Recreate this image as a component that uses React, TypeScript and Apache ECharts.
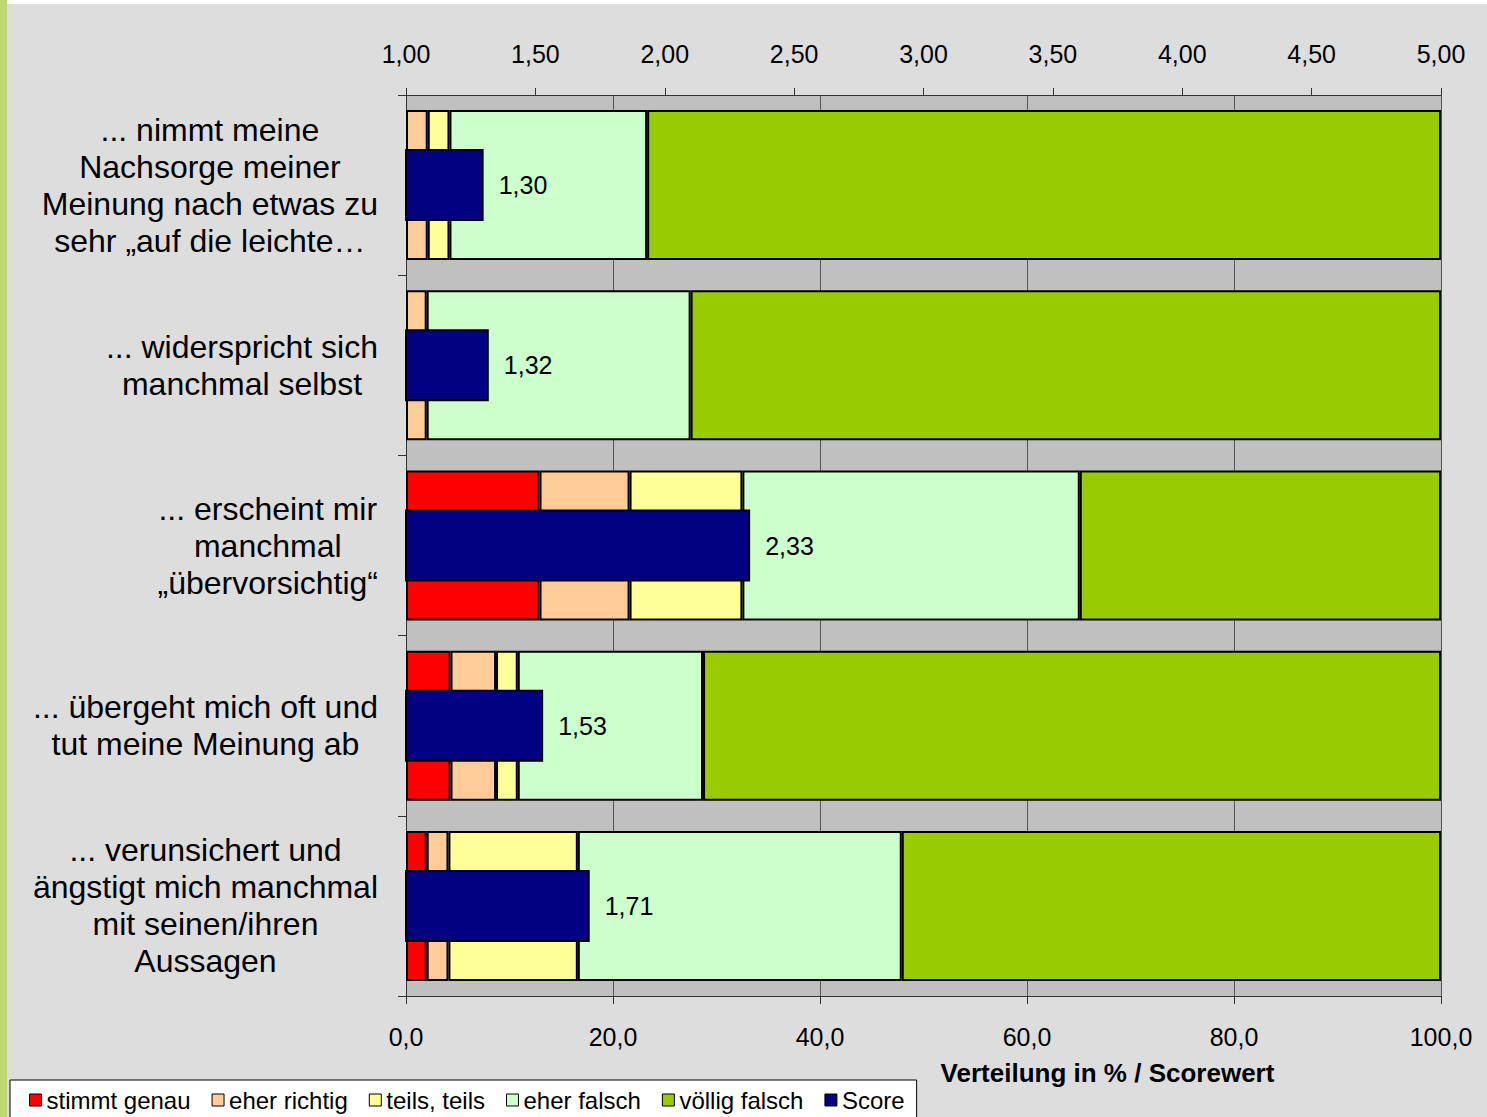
import React, { useEffect, useRef } from "react";
import * as echarts from "echarts";

const categories = [
  "... nimmt meine\nNachsorge meiner\nMeinung nach etwas zu\nsehr „auf die leichte…",
  "... widerspricht sich\nmanchmal selbst",
  "... erscheint mir\nmanchmal\n„übervorsichtig“",
  "... übergeht mich oft und\ntut meine Meinung ab",
  "... verunsichert und\nängstigt mich manchmal\nmit seinen/ihren\nAussagen",
];

const seriesNames = ["stimmt genau", "eher richtig", "teils, teils", "eher falsch", "völlig falsch"];
const stimmtGenau = [0, 0, 12.9, 4.3, 2.0];
const eherRichtig = [2.1, 2.0, 8.7, 4.4, 2.1];
const teilsTeils = [2.1, 0, 10.9, 2.1, 12.5];
const eherFalsch = [19.1, 25.5, 32.6, 17.9, 31.3];
const volligFalsch = [76.7, 72.5, 34.9, 71.3, 52.1];
const scoreName = "Score";
const score = [1.3, 1.32, 2.33, 1.53, 1.71];

const colors = ["#FF0000", "#FFCC99", "#FFFF99", "#CCFFCC", "#99CC00"];
const scoreColor = "#000080";

const FONT = "Liberation Sans, Arial, sans-serif";

export default function App() {
  const ref = useRef<HTMLDivElement>(null);
  useEffect(() => {
    if (!ref.current) return;
    const chart = echarts.init(ref.current, undefined, { renderer: "svg" });
    const stacks = [stimmtGenau, eherRichtig, teilsTeils, eherFalsch, volligFalsch];
    const stackSeries = stacks.map((arr, i) => ({
      name: seriesNames[i],
      type: "bar",
      stack: "dist",
      xAxisIndex: 0,
      yAxisIndex: 0,
      barWidth: 150,
      data: arr.map((v) => (v === 0 ? null : v)),
      itemStyle: { color: colors[i], borderColor: "#000", borderWidth: 2 },
    }));
    const option: any = {
      animation: false,
      backgroundColor: "#DDDDDD",
      textStyle: { fontFamily: FONT },
      graphic: [
        { type: "rect", left: 0, top: 0, z: -10, shape: { width: 7, height: 1117 }, style: { fill: "#BDD974" } },
        { type: "rect", left: 7, top: 0, z: -10, shape: { width: 1480, height: 4 }, style: { fill: "#FFFFFF" } },
      ],
      grid: {
        left: 406,
        right: 46,
        top: 95,
        bottom: 121,
        show: true,
        backgroundColor: "#C0C0C0",
        borderWidth: 0,
      },
      legend: {
        left: 10,
        top: 1080,
        data: [...seriesNames, scoreName],
        backgroundColor: "#FFFFFF",
        borderColor: "#000",
        borderWidth: 1,
        padding: [8, 12, 20, 19],
        itemWidth: 12,
        itemHeight: 12,
        itemGap: 21,
        icon: "rect",
        itemStyle: { borderColor: "#000", borderWidth: 1 },
        textStyle: { fontSize: 24, color: "#000", fontFamily: FONT },
      },
      xAxis: [
        {
          type: "value",
          position: "bottom",
          min: 0,
          max: 100,
          interval: 20,
          axisLine: { show: true, lineStyle: { color: "#333", width: 1 } },
          axisTick: { show: true, length: 8, lineStyle: { color: "#333" } },
          splitLine: { show: true, lineStyle: { color: "#555", width: 1 } },
          axisLabel: {
            fontSize: 25,
            color: "#000",
            margin: 28,
            fontFamily: FONT,
            formatter: (v: number) => v.toFixed(1).replace(".", ","),
          },
          name: "Verteilung in % / Scorewert",
          nameLocation: "middle",
          nameGap: 64,
          nameTextStyle: {
            fontSize: 26,
            fontWeight: "bold",
            color: "#000",
            fontFamily: FONT,
            padding: [0, 0, 0, 368],
          },
        },
        {
          type: "value",
          position: "top",
          min: 1,
          max: 5,
          interval: 0.5,
          axisLine: { show: true, lineStyle: { color: "#333", width: 1 } },
          axisTick: { show: true, length: 7, lineStyle: { color: "#333" } },
          splitLine: { show: false },
          axisLabel: {
            fontSize: 25,
            color: "#000",
            margin: 29,
            fontFamily: FONT,
            formatter: (v: number) => v.toFixed(2).replace(".", ","),
          },
        },
      ],
      yAxis: [
        {
          type: "category",
          data: categories,
          inverse: true,
          axisLine: { show: true, lineStyle: { color: "#333", width: 1 } },
          axisTick: { show: true, length: 8, lineStyle: { color: "#333" } },
          splitLine: { show: false },
          axisLabel: {
            margin: 28,
            color: "#000",
            fontSize: 32,
            lineHeight: 37,
            fontFamily: FONT,
            formatter: (v: string) =>
              v
                .split("\n")
                .map((l) => "{c|" + l + "}")
                .join("\n"),
            rich: {
              c: { align: "center", fontSize: 32, lineHeight: 37, color: "#000", fontFamily: FONT },
            },
          },
        },
        {
          type: "category",
          data: categories,
          inverse: true,
          show: false,
        },
      ],
      series: [
        ...stackSeries,
        {
          name: scoreName,
          type: "bar",
          xAxisIndex: 1,
          yAxisIndex: 1,
          barWidth: 72,
          clip: true,
          data: score,
          itemStyle: { color: scoreColor, borderColor: "#000", borderWidth: 2 },
          label: {
            show: true,
            position: "right",
            distance: 15,
            fontSize: 25,
            color: "#000",
            fontFamily: FONT,
            formatter: (p: any) => Number(p.value).toFixed(2).replace(".", ","),
          },
        },
      ],
    };
    chart.setOption(option);
    return () => chart.dispose();
  }, []);
  return (
    <div
      ref={ref}
      style={{ position: "absolute", left: 0, top: 0, width: 1487, height: 1117 }}
    />
  );
}
